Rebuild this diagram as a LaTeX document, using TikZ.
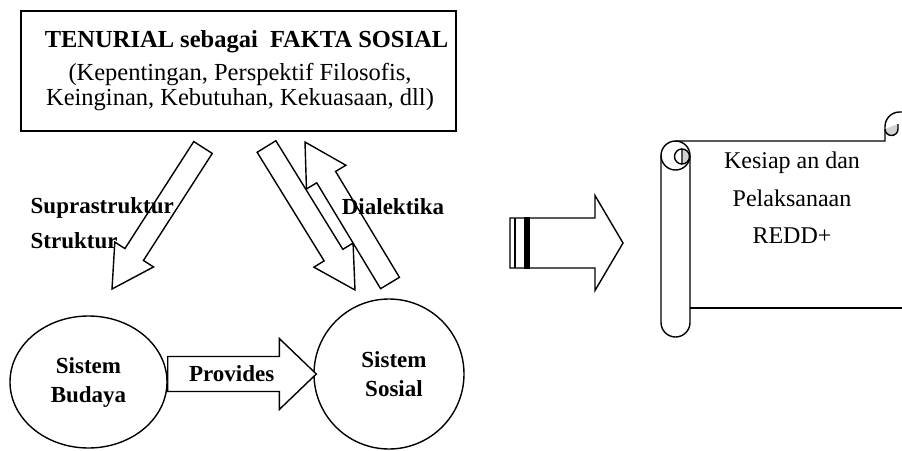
\documentclass[tikz,border=0pt]{standalone}
\usepackage{fontspec}
\setmainfont{Liberation Serif}
\usetikzlibrary{positioning,calc,shapes.geometric}

% tail, tip, shaft half width, head half width, head length
\newcommand{\blockarrow}[5]{%
  \path ($(#2)!#5!(#1)$) coordinate (neck);
  \draw[blk] ($(#1)!#3!90:(#2)$) -- ($(neck)!#3!90:(#2)$)
    -- ($(neck)!#4!90:(#2)$) -- (#2) -- ($(neck)!#4!-90:(#2)$)
    -- ($(neck)!#3!-90:(#2)$) -- ($(#1)!#3!-90:(#2)$) -- cycle;}

\begin{document}
\begin{tikzpicture}[x=1pt,y=-1pt,line width=1.4pt,
    txt/.style={font=\fontsize{24.5}{25}\selectfont},
    bold/.style={font=\fontsize{23}{29}\selectfont\bfseries, inner sep=0pt},
    blk/.style={draw,fill=white,line join=miter}]
  \useasboundingbox (0,0) rectangle (902,450);
  \clip (0,0) rectangle (902,450);

  \node(tenurial)[draw, minimum width=435pt, minimum height=120pt,
                  align=center, txt] at (238.5,71)
  {\hspace*{16pt}\textbf{TENURIAL sebagai\ \ FAKTA SOSIAL}\\[8pt]
   \hspace*{3pt}(Kepentingan, Perspektif\ Filosofis,\\
   \hspace*{3pt}Keinginan, Kebutuhan, Kekuasaan, dll)};

  \coordinate (s1) at (203,147.5);
  \coordinate (s2) at (112,289);
  \coordinate (d1) at (266.5,146.5);
  \coordinate (d2) at (355,290);
  \coordinate (u1) at (390,283);
  \coordinate (u2) at (305,142);

  \blockarrow{s1}{s2}{11pt}{23pt}{41pt}
  \blockarrow{d1}{d2}{11pt}{23pt}{41pt}
  \blockarrow{u1}{u2}{11pt}{23pt}{41pt}

  \node(supra)[bold, anchor=west] at (30,208) {Suprastruktur};
  \node(strukt)[bold, below=13pt of supra.south west, anchor=north west]
  {Struktur};
  \node(dialek)[bold] at (393,207) {Dialektika};

  \node(budaya)[draw, ellipse, minimum width=157pt, minimum height=132pt,
                align=center, bold] at (88.5,382) {Sistem\\Budaya};
  \node(sosial)[draw, circle, minimum size=150pt,
                align=center, bold] at (389,374) {\hspace*{10pt}Sistem\\\hspace*{10pt}Sosial};

  \coordinate (p1) at (budaya.east |- sosial.west);
  \coordinate (p2) at ($(sosial.west)+(3,0)$);
  \blockarrow{p1}{p2}{17.5pt}{35.5pt}{37pt}
  \node(provides)[bold] at ($(p1)!.43!(p2)$) {Provides};

  \coordinate (st1) at (510,243);
  \coordinate (st2) at (623,243);
  \blockarrow{st1}{st2}{25pt}{47.5pt}{28pt}
  \draw (515,218) -- (515,268);
  \filldraw (524.5,218) rectangle (529,268);

  \draw (661,155.5) -- (661,322.5)
    arc[start angle=180, end angle=360, radius=14.5pt] -- (690,155.5);
  \draw (675.5,155.5) circle[radius=14.5pt];
  \filldraw[fill=gray!35] (682,149)
    arc[start angle=90, end angle=-90, radius=7.5pt] -- cycle;
  \draw (682,149) arc[start angle=90, end angle=270, radius=7.5pt];
  \draw (675.5,141) -- (885,141) -- (885,126.5)
    arc[start angle=180, end angle=90, radius=14.5pt] -- (930,112);
  \filldraw[fill=gray!35] (885,129)
    arc[start angle=180, end angle=360, radius=6.5pt] -- (898,124);
  \draw (690,308) -- (930,308);

  \node(redd)[txt, font=\fontsize{24}{37.5}\selectfont, align=center]
    at (792,198) {Kesiap an dan\\Pelaksanaan\\REDD+};
\end{tikzpicture}
\end{document}
